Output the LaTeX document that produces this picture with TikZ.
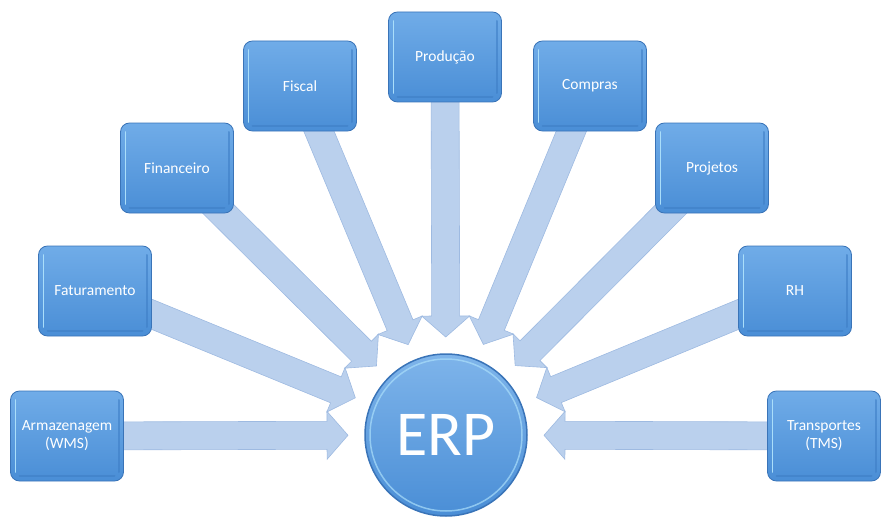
\documentclass[tikz,border=0pt]{standalone}
\usepackage{fontspec}
\setmainfont{Carlito}
\usepackage{xcolor}
\definecolor{myboxtop}{RGB}{112,172,232}
\definecolor{myboxbottom}{RGB}{74,142,214}
\definecolor{myboxborder}{RGB}{58,116,184}
\definecolor{myhighlight}{RGB}{170,222,250}
\definecolor{myshade}{RGB}{62,126,198}
\definecolor{myarrowfill}{RGB}{186,208,237}
\definecolor{myarrowborder}{RGB}{158,186,225}
\usetikzlibrary{calc,positioning,backgrounds}

\begin{document}
\begin{tikzpicture}[
  x=1pt, y=-1pt,
  mybox/.style={
    draw=myboxborder,
    thick,
    rounded corners=9pt,
    top color=myboxtop,
    bottom color=myboxbottom,
    minimum width=113pt,
    minimum height=90pt,
    text width=105pt,
    align=center,
    text=white,
    font=\fontsize{15.5}{18}\selectfont,
    path picture={
      \draw[myhighlight, line width=1.8pt, line cap=round]
        ([xshift=5pt,yshift=-9pt]path picture bounding box.north west)
        -- ([xshift=5pt,yshift=9pt]path picture bounding box.south west);
      \draw[myshade, line width=2pt, opacity=0.6, line cap=round]
        ([xshift=-5pt,yshift=-9pt]path picture bounding box.north east)
        -- ([xshift=-5pt,yshift=9pt]path picture bounding box.south east);
      \draw[myshade, line width=2pt, opacity=0.6, line cap=round]
        ([xshift=9pt,yshift=5pt]path picture bounding box.south west)
        -- ([xshift=-9pt,yshift=5pt]path picture bounding box.south east);
      }
    },
  mycircle/.style={
    circle,
    draw=myboxborder,
    line width=1.5pt,
    top color=myboxtop!90!white,
    bottom color=myboxbottom,
    minimum size=162pt,
    text=white,
    font=\fontsize{64}{70}\selectfont,
    path picture={
      \draw[myhighlight, line width=1.5pt, opacity=0.7]
        (path picture bounding box.center) circle[radius=76pt];
      }
    },
  myarrow/.style={
    fill=myarrowfill,
    draw=myarrowborder,
    line width=0.6pt,
    line join=miter
    }
]

\useasboundingbox (0,0) rectangle (887,527);

\node[mycircle] (erp) at (446,435) {ERP};

\node[mybox] (wms) at (67,436) {Armazenagem\\(WMS)};
\node[mybox] (fat) at (95,291) {Faturamento};
\node[mybox] (fin) at (177,168) {Financeiro};
\node[mybox] (fis) at (300,86) {Fiscal};
\node[mybox] (pro) at (445,57) {Produção};
\node[mybox] (com) at (590,86) {Compras};
\node[mybox] (prj) at (712,168) {Projetos};
\node[mybox] (rh) at (795,291) {RH};
\node[mybox] (tms) at (824,436) {Transportes\\(TMS)};

\begin{scope}[on background layer]
\foreach \Modulo in {wms,fat,fin,fis,pro,com,prj,rh,tms}{
  \coordinate (tip) at ($(erp.center)!98pt!(\Modulo.center)$);
  \coordinate (base) at ($(tip)!21pt!(\Modulo.center)$);
  \draw[myarrow]
    ($(\Modulo.center)!14pt!90:(tip)$) -- ($(base)!14pt!90:(tip)$)
    -- ($(base)!24pt!90:(tip)$) -- (tip)
    -- ($(base)!24pt!-90:(tip)$) -- ($(base)!14pt!-90:(tip)$)
    -- ($(\Modulo.center)!14pt!-90:(tip)$) -- cycle;
}
\end{scope}

\end{tikzpicture}
\end{document}
